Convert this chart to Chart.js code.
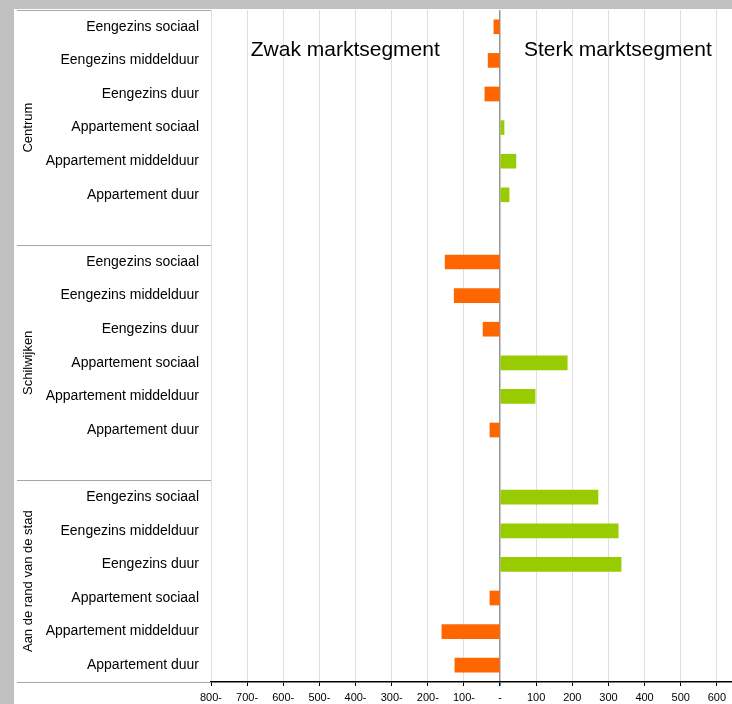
<!DOCTYPE html>
<html>
<head>
<meta charset="utf-8">
<script src="https://cdn.jsdelivr.net/npm/chart.js@4.4.1/dist/chart.umd.min.js"></script>
<style>
  html, body { margin: 0; padding: 0; background: #c0c0c0; }
  #wrap { position: absolute; left: 14px; top: 9px; width: 718px; height: 695px; background: #fff; }
</style>
</head>
<body>
<div id="wrap"><canvas id="chart"></canvas></div>
<script>
// data
const groups = ["Centrum", "Schilwijken", "Aan de rand van de stad"];
const segments = ["Eengezins sociaal", "Eengezins middelduur", "Eengezins duur",
                  "Appartement sociaal", "Appartement middelduur", "Appartement duur"];
const centrumValues = [-17, -33, -42, 11, 44, 25];
const schilwijkenValues = [-152, -127, -47, 186, 97, -28];
const randValues = [271, 327, 335, -28, -161, -125];
const xTicks = [-800, -700, -600, -500, -400, -300, -200, -100, 0, 100, 200, 300, 400, 500, 600];
const zwakLabel = "Zwak marktsegment";
const sterkLabel = "Sterk marktsegment";

const FONT = "'Liberation Sans', Arial, sans-serif";

// build rows: each group followed by an empty spacer row (except the last)
const groupValues = [centrumValues, schilwijkenValues, randValues];
const labels = [];
const values = [];
const groupRanges = [];
groupValues.forEach((vals, g) => {
  const start = labels.length;
  segments.forEach((s, i) => { labels.push(s); values.push(vals[i]); });
  if (g < groupValues.length - 1) { labels.push(""); values.push(null); }
  groupRanges.push([start - 0.5, labels.length - 0.5]);
});

const groupPlugin = {
  id: "groupLabels",
  afterDraw(chart) {
    const { ctx, chartArea, scales } = chart;
    const x = scales.x, y = scales.y;
    ctx.save();

    // separator lines in the label column
    ctx.strokeStyle = "#a6a6a6";
    ctx.lineWidth = 1;
    const bounds = [groupRanges[0][0]].concat(groupRanges.map(r => r[1]));
    bounds.forEach(b => {
      const py = Math.round(y.getPixelForValue(b)) + 0.5;
      ctx.beginPath();
      ctx.moveTo(3, py);
      ctx.lineTo(chartArea.left, py);
      ctx.stroke();
    });

    // rotated group names
    ctx.fillStyle = "#000";
    ctx.font = "13px " + FONT;
    ctx.textAlign = "center";
    ctx.textBaseline = "middle";
    groups.forEach((name, g) => {
      const cy = y.getPixelForValue((groupRanges[g][0] + groupRanges[g][1]) / 2);
      ctx.save();
      ctx.translate(14, cy);
      ctx.rotate(-Math.PI / 2);
      ctx.fillText(name, 0, 0);
      ctx.restore();
    });

    // segment annotations
    ctx.font = "21px " + FONT;
    ctx.textAlign = "left";
    ctx.textBaseline = "alphabetic";
    const ty = y.getPixelForValue(0.87);
    ctx.fillText(zwakLabel, x.getPixelForValue(-690), ty);
    ctx.fillText(sterkLabel, x.getPixelForValue(66), ty);
    ctx.restore();
  }
};

new Chart(document.getElementById("chart"), {
  type: "bar",
  data: {
    labels: labels,
    datasets: [{
      data: values,
      backgroundColor: values.map(v => v < 0 ? "#ff6600" : "#99cc00"),
      barThickness: 14,
      borderWidth: 0
    }]
  },
  options: {
    indexAxis: "y",
    responsive: true,
    maintainAspectRatio: false,
    animation: false,
    layout: { padding: { top: 1, right: 0, bottom: 0, left: 0 } },
    plugins: { legend: { display: false }, tooltip: { enabled: false } },
    scales: {
      x: {
        type: "linear",
        position: "bottom",
        min: -800,
        max: 642,
        afterBuildTicks: scale => { scale.ticks = xTicks.map(v => ({ value: v })); },
        afterFit: scale => {
          scale.height = 22;
          scale.paddingLeft = 0;
          scale.paddingRight = 0;
        },
        border: { display: true, color: "#000", width: 1.5 },
        grid: {
          color: c => c.tick && c.tick.value === 0 ? "#969696" : "#dedede",
          lineWidth: c => c.tick && c.tick.value === 0 ? 1.5 : 1,
          tickColor: "#000",
          tickLength: 4
        },
        ticks: {
          autoSkip: false,
          maxRotation: 0,
          padding: 5,
          color: "#000",
          font: { family: FONT, size: 11 },
          callback: v => v < 0 ? Math.abs(v) + "-" : v === 0 ? "-" : String(v)
        }
      },
      y: {
        type: "category",
        afterFit: scale => {
          scale.width = 197;
          scale.paddingTop = 0;
          scale.paddingBottom = 0;
        },
        border: { display: false },
        grid: { display: false, drawTicks: false },
        ticks: {
          autoSkip: false,
          padding: 12,
          color: "#000",
          font: { family: FONT, size: 14 }
        }
      }
    }
  },
  plugins: [groupPlugin]
});
</script>
</body>
</html>
